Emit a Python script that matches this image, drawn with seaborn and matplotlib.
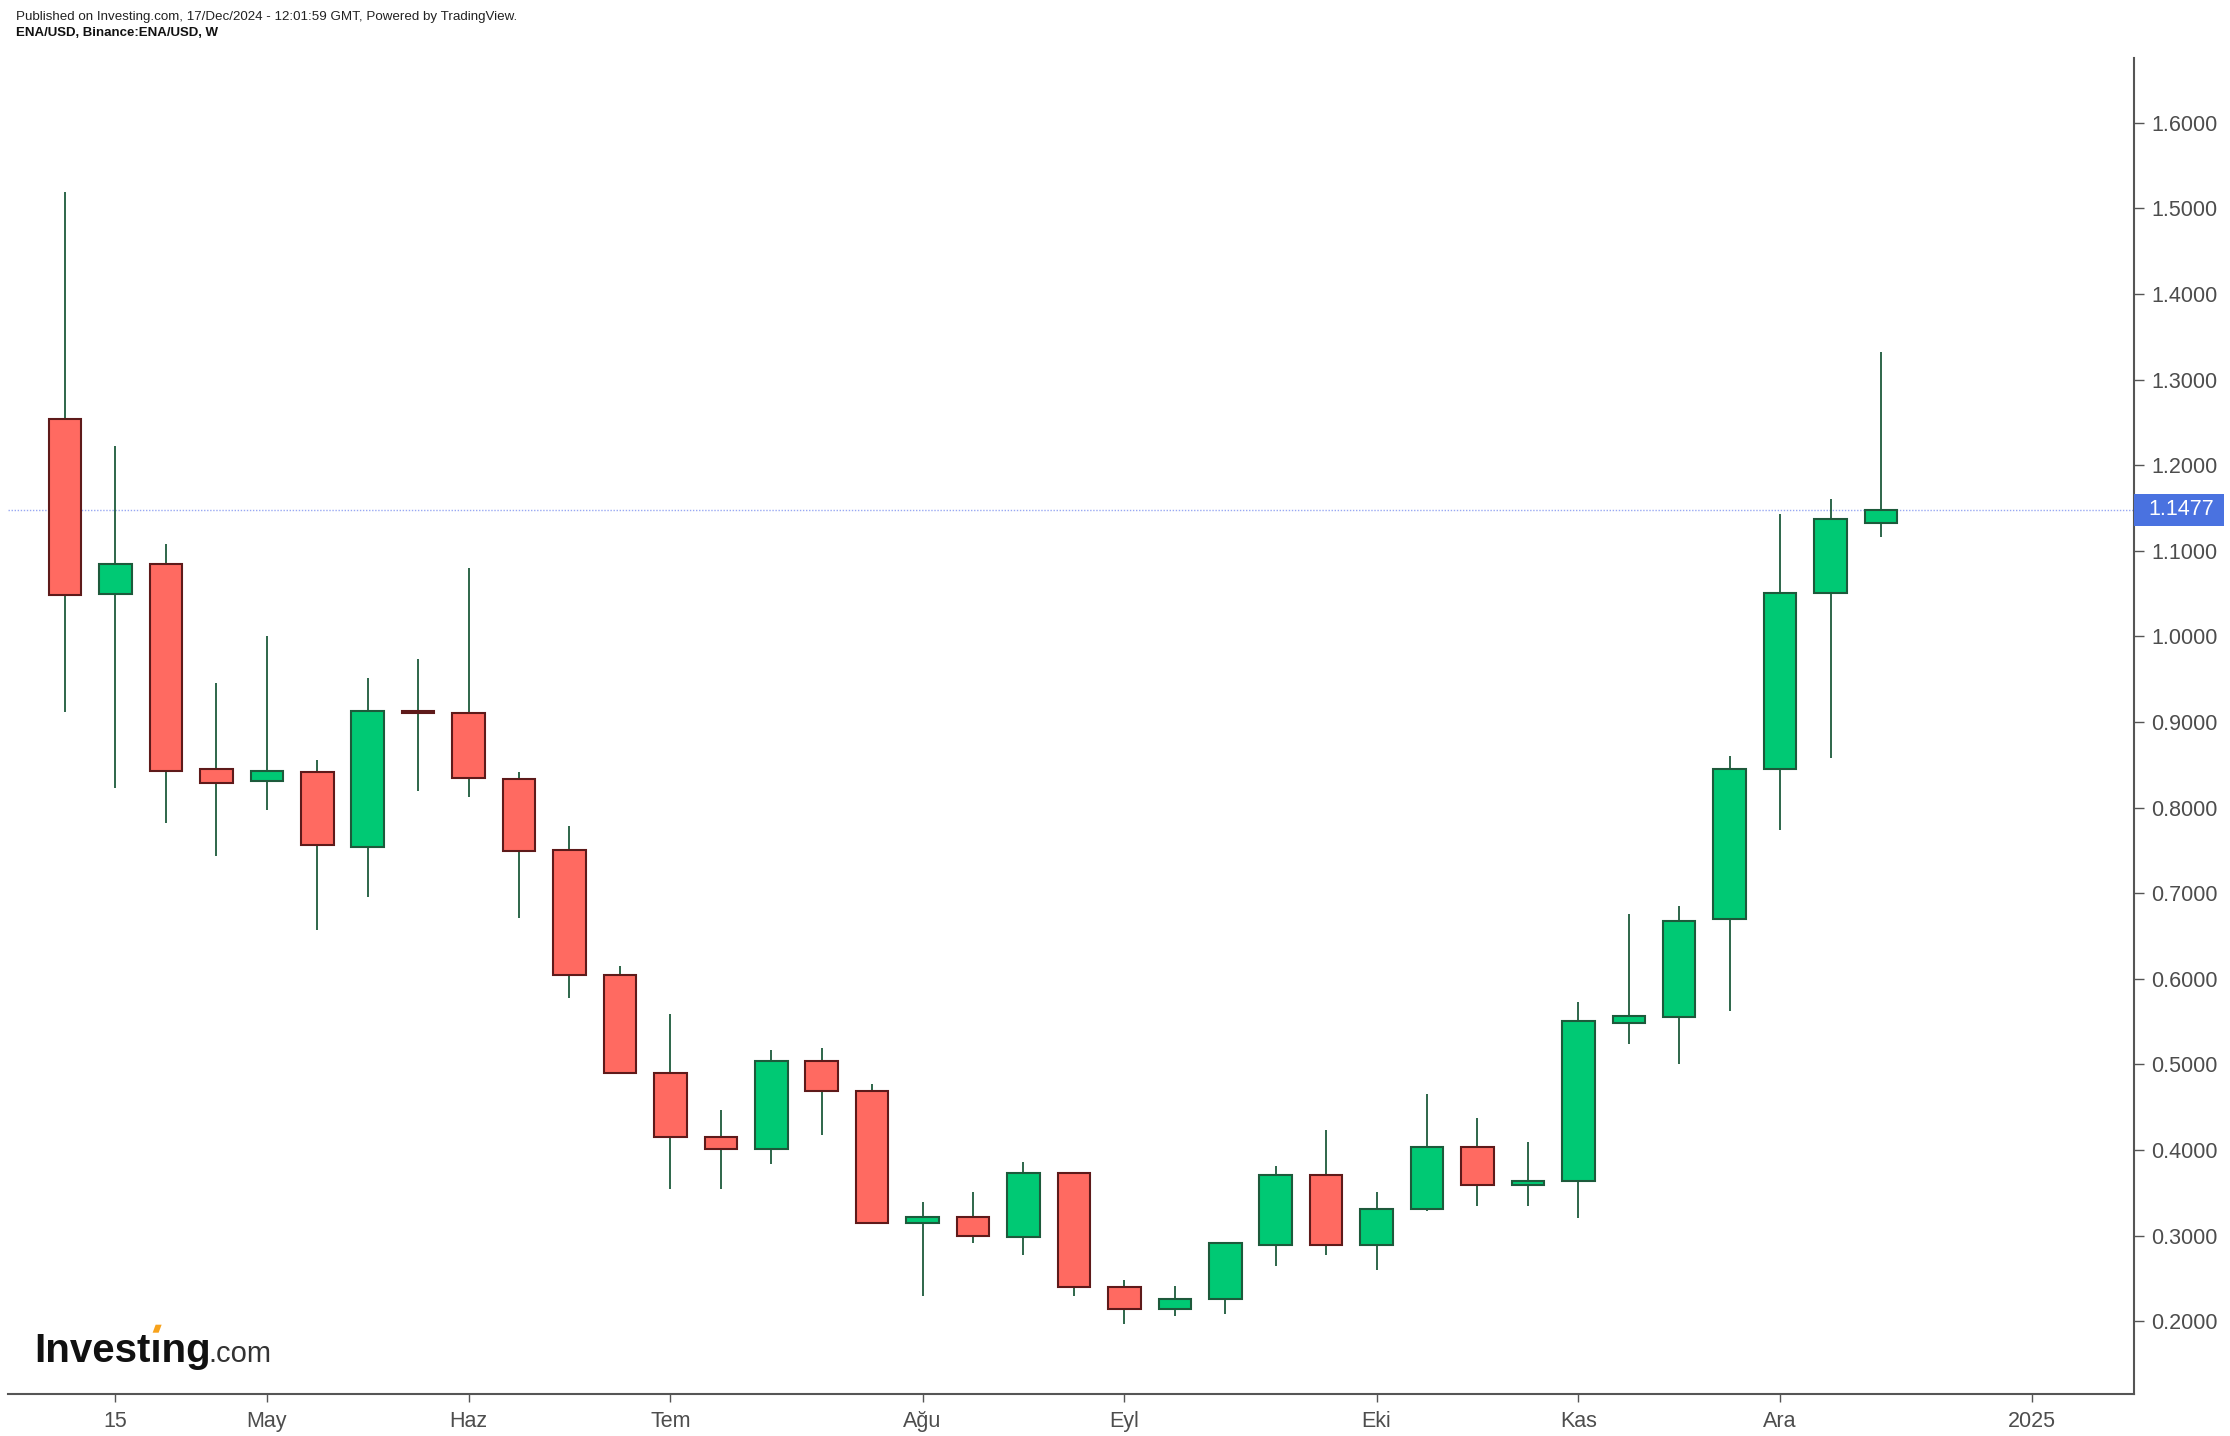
import numpy as np
import pandas as pd
import matplotlib
matplotlib.use("Agg")
import matplotlib.pyplot as plt
import matplotlib.dates as mdates
import matplotlib.transforms as mtransforms
from matplotlib.patches import Rectangle, Polygon
from matplotlib import font_manager
import seaborn as sns

# ---------------- data (weekly ENA/USD candles) ----------------
weeks = ["2024-04-08", "2024-04-15", "2024-04-22", "2024-04-29", "2024-05-06",
         "2024-05-13", "2024-05-20", "2024-05-27", "2024-06-03", "2024-06-10",
         "2024-06-17", "2024-06-24", "2024-07-01", "2024-07-08", "2024-07-15",
         "2024-07-22", "2024-07-29", "2024-08-05", "2024-08-12", "2024-08-19",
         "2024-08-26", "2024-09-02", "2024-09-09", "2024-09-16", "2024-09-23",
         "2024-09-30", "2024-10-07", "2024-10-14", "2024-10-21", "2024-10-28",
         "2024-11-04", "2024-11-11", "2024-11-18", "2024-11-25", "2024-12-02",
         "2024-12-09", "2024-12-16"]
opens = [1.254, 1.050, 1.084, 0.845, 0.831, 0.841, 0.754, 0.913, 0.910, 0.833,
         0.750, 0.605, 0.490, 0.415, 0.401, 0.504, 0.469, 0.3145, 0.322, 0.299,
         0.3735, 0.240, 0.214, 0.226, 0.289, 0.371, 0.289, 0.331, 0.404, 0.359,
         0.364, 0.548, 0.555, 0.670, 0.845, 1.051, 1.132]
highs = [1.519, 1.222, 1.108, 0.945, 1.000, 0.856, 0.951, 0.973, 1.080, 0.842,
         0.779, 0.615, 0.559, 0.447, 0.517, 0.519, 0.477, 0.339, 0.351, 0.386,
         0.3735, 0.248, 0.241, 0.292, 0.381, 0.423, 0.351, 0.465, 0.437, 0.409,
         0.573, 0.676, 0.685, 0.8605, 1.143, 1.161, 1.332]
lows = [0.912, 0.823, 0.782, 0.744, 0.797, 0.657, 0.695, 0.819, 0.812, 0.671,
        0.578, 0.490, 0.354, 0.354, 0.384, 0.417, 0.3145, 0.230, 0.291, 0.277,
        0.230, 0.197, 0.2065, 0.209, 0.265, 0.277, 0.260, 0.329, 0.335, 0.335,
        0.321, 0.524, 0.501, 0.562, 0.774, 0.858, 1.1155]
closes = [1.048, 1.084, 0.843, 0.829, 0.843, 0.756, 0.913, 0.911, 0.834, 0.749,
          0.605, 0.490, 0.415, 0.401, 0.504, 0.469, 0.3145, 0.322, 0.2995, 0.3735,
          0.2404, 0.214, 0.226, 0.292, 0.371, 0.289, 0.331, 0.404, 0.359, 0.364,
          0.551, 0.556, 0.668, 0.845, 1.051, 1.137, 1.1477]

xtick_dates = ["2024-04-15", "2024-05-06", "2024-06-03", "2024-07-01", "2024-08-05",
               "2024-09-02", "2024-10-07", "2024-11-04", "2024-12-02", "2025-01-06"]
xtick_labels = ["15", "May", "Haz", "Tem", "Ağu", "Eyl", "Eki", "Kas", "Ara", "2025"]
ytick_values = [0.2, 0.3, 0.4, 0.5, 0.6, 0.7, 0.8, 0.9, 1.0, 1.1, 1.2, 1.3, 1.4, 1.5, 1.6]

header_line1 = "Published on Investing.com, 17/Dec/2024 - 12:01:59 GMT, Powered by TradingView."
header_line2 = "ENA/USD, Binance:ENA/USD, W"

# ---------------- styling ----------------
sns.set_theme(style="white")
plt.rcParams['font.family'] = ['Liberation Sans', 'DejaVu Sans']

UP_FILL, UP_EDGE = "#00c974", "#1d5a3b"
DN_FILL, DN_EDGE = "#ff6a61", "#5e1a1a"
WICK = "#1d5a3b"
AXIS_COL = "#555555"
LABEL_COL = "#4d4d4d"
PRICE_BLUE = "#4a72e0"

W_PX, H_PX = 2230, 1436
fig = plt.figure(figsize=(W_PX / 100, H_PX / 100), dpi=100)
fig.patch.set_facecolor("white")
ax = fig.add_axes([0.00345, 0.02946, 0.95337, 0.92994])
ax.set_facecolor("white")

df = pd.DataFrame({"week": pd.to_datetime(weeks), "open": opens, "high": highs,
                   "low": lows, "close": closes})
x = mdates.date2num(df["week"])
up = df["close"] > df["open"]
body_bottom = np.minimum(df["open"], df["close"])
body_height = np.maximum(np.abs(df["close"] - df["open"]), 0.002)

# wicks
ax.vlines(x, df["low"], df["high"], color=WICK, linewidth=1.3, zorder=2)
# bodies
ax.bar(x, body_height, bottom=body_bottom, width=7 * 0.645,
       color=np.where(up, UP_FILL, DN_FILL),
       edgecolor=np.where(up, UP_EDGE, DN_EDGE),
       linewidth=1.5, zorder=3, align="center")

# last price line
last = closes[-1]
ax.axhline(last, color="#98a8f2", linewidth=1.0, linestyle=(0, (1, 1.2)), zorder=1)

x0 = x[0]
ax.set_xlim(x0 - 1.137 * 7, x0 + 41.01 * 7)
ax.set_ylim(0.1154, 1.6752)

# axes styling
for s in ["left", "top"]:
    ax.spines[s].set_visible(False)
for s in ["right", "bottom"]:
    ax.spines[s].set_color(AXIS_COL)
    ax.spines[s].set_linewidth(1.5)
ax.grid(False)

ax.yaxis.tick_right()
ax.set_yticks(ytick_values)
ax.set_yticklabels([f"{v:.4f}" for v in ytick_values])
ax.set_xticks(mdates.date2num(pd.to_datetime(xtick_dates)))
ax.set_xticklabels(xtick_labels)
ax.tick_params(axis="y", which="major", right=True, left=False, length=7, width=1.0,
               color=AXIS_COL, pad=5.5, labelsize=15.5, labelcolor=LABEL_COL)
ax.tick_params(axis="x", which="major", bottom=True, length=6, width=1.0,
               color=AXIS_COL, pad=6.5, labelsize=15.5, labelcolor=LABEL_COL)

# price label box on the axis
fig.canvas.draw()
px_per_unit = ax.transData.transform((0, 1))[1] - ax.transData.transform((0, 0))[1]
box_h = 32 / px_per_unit
ax_w_px = ax.get_window_extent().width
trans = mtransforms.blended_transform_factory(ax.transAxes, ax.transData)
ax.add_patch(Rectangle((1.0, last - box_h / 2), 90 / ax_w_px, box_h, transform=trans,
                       facecolor=PRICE_BLUE, edgecolor="none", clip_on=False, zorder=5))
ax.text(1.0 + 14.5 / ax_w_px, last, f"{last:.4f}", transform=trans, color="white",
        fontsize=15.5, va="center", ha="left", zorder=6, clip_on=False)

# header
fig.text(16 / W_PX, 1 - 16.7 / H_PX, header_line1, fontsize=9.6, color="#222222",
         va="center", ha="left")
fig.text(16 / W_PX, 1 - 32.5 / H_PX, header_line2, fontsize=9.5, color="#111111",
         fontweight="bold", va="center", ha="left")

# Investing.com logo
names = {f.name for f in font_manager.fontManager.ttflist}
if "Liberation Sans Narrow" in names:
    logo_fam = ["Liberation Sans Narrow", "DejaVu Sans"]
    logo_fs, com_fs = 33, 25
else:
    logo_fam = ["Liberation Sans", "DejaVu Sans"]
    logo_fs, com_fs = 29, 21
renderer = fig.canvas.get_renderer()
base_y = 1 - 1361.7 / H_PX
lx = 34.7 / W_PX
t_logo = fig.text(lx, base_y, "Investıng", fontsize=logo_fs, fontweight="bold",
                  color="#111111", va="baseline", ha="left", family=logo_fam)
bb = t_logo.get_window_extent(renderer)
fig.text(bb.x1 / W_PX - 3 / W_PX, base_y, ".com", fontsize=com_fs, color="#333333",
         va="baseline", ha="left", family=logo_fam)
tmp1 = fig.text(lx, base_y, "Invest", fontsize=logo_fs, fontweight="bold",
                va="baseline", ha="left", family=logo_fam)
tmp2 = fig.text(lx, base_y, "Investı", fontsize=logo_fs, fontweight="bold",
                va="baseline", ha="left", family=logo_fam)
e1 = tmp1.get_window_extent(renderer).x1
e2 = tmp2.get_window_extent(renderer).x1
tmp1.remove(); tmp2.remove()
cx = (e1 + e2) / 2
by = base_y * H_PX
y0, y1 = by + 29, by + 37
pts = [(cx - 4, y0), (cx + 2, y0), (cx + 5, y1), (cx - 1, y1)]
pts_fig = [(px / W_PX, py / H_PX) for px, py in pts]
fig.patches.append(Polygon(pts_fig, closed=True, transform=fig.transFigure,
                           facecolor="#f7a21b", edgecolor="none"))

fig.savefig("out.png", dpi=100)
